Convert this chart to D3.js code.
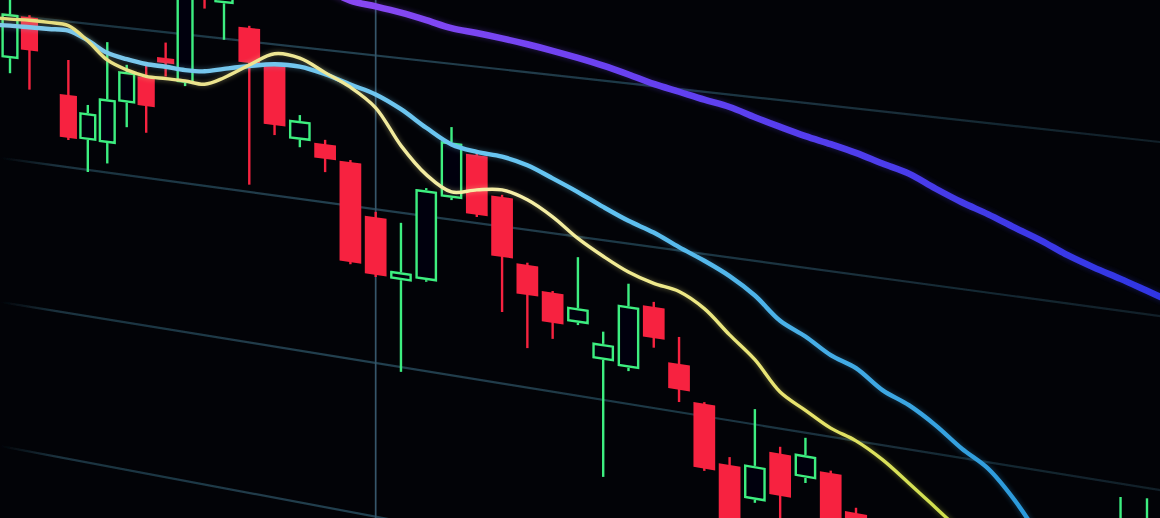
<!DOCTYPE html>
<html><head><meta charset="utf-8">
<script src="https://cdn.jsdelivr.net/npm/d3@7"></script>
<style>html,body{margin:0;padding:0;background:#020307;overflow:hidden}svg{display:block}</style>
</head><body>
<svg id="chart" width="1160" height="518"></svg>
<script>
// ---------- data ----------
const periods = [-1,0,1,2,3,4,5,6,7,8,9,10,11,12,13,14,15,16,17,18,19,20,21,22,23,24,25,26,27,28,29,30,31,32,33,34,35,36,37,38,39,40,41,42,43,44,45,46,47,48];
const open  = [null,1105,1148,1137.5,1075.5,1033.5,1033,1075,1102,1123,1101,1222,1182,1161,1128,1060,1059,1045,996.5,941,944.5,1024,1066.5,1031,972,950,926,896,892.5,950.5,903,871,820.5,793.5,838,820.5,828.5,797.5,null,null,null,null,null,null,null,null,null,780,788,null];
const high  = [null,1168,1150,1140.5,1110,1068,1132,1112,1114,1138,1225,1241,1233,1163,1130,1083.5,1063,1047,1001.5,994.5,1030,1089.5,1068.5,1033,974,951.5,985.5,921.5,968,955,927,872.5,827.5,873.5,844,855.5,830.5,802,null,null,null,null,null,null,null,null,null,849,851.5,null];
const low   = [null,1090,1076,1136.5,1031,1002,1013,1051,1048,1105,1098,1175,1147,1011,1061.5,1053,1032.5,949,940.5,855.5,943,1022,1009.5,925.5,896,908,924,790.5,889.5,914,869,811.5,745.5,791,771,816,757,744,null,null,null,null,null,null,null,null,null,771.5,779.5,null];
const close = [null,1149,1115,1139.5,1033,1060,1076,1105,1074,1118,1210,1185,1214,1127.5,1071,1078,1045,951,942.5,948.5,1028,1075.5,1011.5,976,944.5,922.5,939.5,910.5,948,922.5,880,813.5,754.5,823.5,801,840.5,766,757,null,null,null,null,null,null,null,null,null,821.5,825,null];
const maFast = [1143.5,1144,1145,1145,1144,1131,1114.5,1107,1103,1103,1103,1102,1110.5,1125.5,1139,1137.5,1126.5,1115.5,1099,1066.5,1042.5,1029.5,1034.5,1037.5,1031.5,1019,1002.5,989.5,978.5,971.5,967.5,955.5,935.5,917,892,879.5,867.5,860,847.5,831,814,797,null,null,null,null,null,null,null,null];
const maMid  = [1136.5,1137.5,1138,1138.5,1139,1131.5,1121.5,1117.5,1115,1114.5,1113.5,1114.5,1119,1124.5,1129,1129.5,1125,1118,1111.5,1100.5,1086,1073.5,1069.5,1068,1063,1054,1044.5,1034,1024.5,1017,1007,998,987.5,973.5,954.5,944,931,923,907.5,898,884.5,868,854.5,831.5,802,null,null,null,null,null];
const maSlow = [null,null,null,null,null,null,null,null,null,null,null,null,null,null,null,null,1206,1197,1194,1190.5,1186,1181,1179,1176.5,1173.5,1170,1166,1161.5,1156,1150,1145.5,1141,1137,1130.5,1124.5,1119,1114.5,1109.5,1103,1097,1087,1078,1070.5,1062,1054,1044.5,1037,1030.5,1023.5,1016.5];
const gridPrices = [1148, 1004, 860, 716];
const gridPeriods = [17];

// ---------- layout ----------
const svg = d3.select("#chart");
const Wd = 1160, Ht = 518;
svg.append("rect").attr("width", Wd).attr("height", Ht).attr("fill", "#020307");

const x = d3.scaleLinear().domain([0, 11, 36, 47]).range([10, 224, 856, 1147]);
const y = d3.scaleLinear().domain([600, 1300]).range([400, -300]);

// camera: the screen is photographed at an angle (perspective of the plane)
const cam = {a0: 162, a1: 0.137, m: 0.00018};
function proj(u, v) { return [u, cam.a0 + cam.a1 * u + v * (1 + cam.m * u)]; }
function quad(u0, u1, v0, v1) {
  const pts = [proj(u0, v0), proj(u1, v0), proj(u1, v1), proj(u0, v1)];
  return "M" + pts.map(q => q[0].toFixed(2) + "," + q[1].toFixed(2)).join("L") + "Z";
}
function seg(u, v0, v1) { const a = proj(u, v0), b = proj(u, v1); return `M${a[0]},${a[1]}L${b[0]},${b[1]}`; }

const defs = svg.append("defs");
const soft = defs.append("filter").attr("id", "soft").attr("x", "-5%").attr("y", "-5%").attr("width", "110%").attr("height", "110%");
soft.append("feGaussianBlur").attr("stdDeviation", 0.55);
const glow = defs.append("filter").attr("id", "glow").attr("x", "-10%").attr("y", "-10%").attr("width", "120%").attr("height", "120%");
glow.append("feGaussianBlur").attr("stdDeviation", 2.2);

function grad(id, stops) {
  const g = defs.append("linearGradient").attr("id", id).attr("gradientUnits", "userSpaceOnUse")
    .attr("x1", 0).attr("y1", 0).attr("x2", Wd).attr("y2", 0);
  stops.forEach(s => g.append("stop").attr("offset", s[0]).attr("stop-color", s[1]).attr("stop-opacity", s[2] == null ? 1 : s[2]));
}
grad("gSlow", [[0.28, "#8c48f4"], [0.6, "#6040f0"], [1, "#2f36e4"]]);
grad("gMid",  [[0, "#80c8ea"], [0.5, "#64c4f2"], [0.9, "#2998da"]]);
grad("gFast", [[0, "#e4dc7c"], [0.45, "#f6efa8"], [0.7, "#e6e26a"], [0.85, "#c8de44"]]);
grad("gGrid", [[0, "#1f3b49", 0], [0.05, "#1f3b49", 0.85], [0.3, "#22404f", 1], [0.65, "#1f3b49", 0.9], [1, "#1f3b49", 0.5]]);

// ---------- grid ----------
const gGrid = svg.append("g").attr("filter", "url(#soft)");
gGrid.selectAll("path.h").data(gridPrices).join("path").attr("class", "h")
  .attr("d", p => { const a = proj(-20, y(p)), b = proj(Wd + 20, y(p)); return `M${a[0]},${a[1]}L${b[0]},${b[1]}`; })
  .attr("stroke", "url(#gGrid)").attr("stroke-width", 2.2).attr("fill", "none");
gGrid.selectAll("path.v").data(gridPeriods).join("path").attr("class", "v")
  .attr("d", p => seg(x(p), y(1400), y(500)))
  .attr("stroke", "#36576a").attr("stroke-width", 1.7).attr("fill", "none");

// ---------- candles ----------
const RED = "#f7233f", GREEN = "#3cee80";
const candles = periods.map((p, i) => ({p, o: open[i], h: high[i], l: low[i], c: close[i]})).filter(d => d.o != null);
function halfW(p) { const s = x(p + 0.5) - x(p - 0.5); return (s * 0.78 + 2) / 2; }

const gC = svg.append("g").attr("filter", "url(#soft)");
candles.forEach(d => {
  const u = x(d.p), hw = halfW(d.p);
  const up = d.c >= d.o;
  const vTop = y(Math.max(d.o, d.c)), vBot = y(Math.min(d.o, d.c));
  if (up) {
    gC.append("path").attr("d", seg(u, y(d.h), vTop)).attr("stroke", GREEN).attr("stroke-width", 2.4);
    gC.append("path").attr("d", seg(u, vBot, y(d.l))).attr("stroke", GREEN).attr("stroke-width", 2.4);
    gC.append("path").attr("d", quad(u - hw + 1.2, u + hw - 1.2, vTop + 1.2, vBot - 1.2))
      .attr("fill", "#020307").attr("stroke", GREEN).attr("stroke-width", 2.4);
  } else {
    gC.append("path").attr("d", seg(u, y(d.h), y(d.l))).attr("stroke", RED).attr("stroke-width", 2.4);
    gC.append("path").attr("d", quad(u - hw, u + hw, vTop, vBot)).attr("fill", RED);
  }
});

// ---------- moving averages ----------
function maPath(vals) {
  const pts = periods.map((p, i) => vals[i] == null ? null : proj(x(p), y(vals[i])));
  return d3.line().defined(d => d != null).x(d => d[0]).y(d => d[1]).curve(d3.curveCatmullRom.alpha(0.5))(pts);
}
const lines = [
  {vals: maSlow, stroke: "url(#gSlow)", w: 6.5},
  {vals: maMid,  stroke: "url(#gMid)",  w: 4.4},
  {vals: maFast, stroke: "url(#gFast)", w: 3.4}
];
const gL = svg.append("g");
lines.forEach(l => {
  gL.append("path").attr("d", maPath(l.vals)).attr("fill", "none").attr("stroke", l.stroke)
    .attr("stroke-width", l.w + 3).attr("opacity", 0.22).attr("filter", "url(#glow)");
});
lines.forEach(l => {
  gL.append("path").attr("d", maPath(l.vals)).attr("fill", "none").attr("stroke", l.stroke)
    .attr("stroke-width", l.w).attr("stroke-linejoin", "round").attr("stroke-linecap", "round").attr("filter", "url(#soft)");
});
</script>
</body></html>
